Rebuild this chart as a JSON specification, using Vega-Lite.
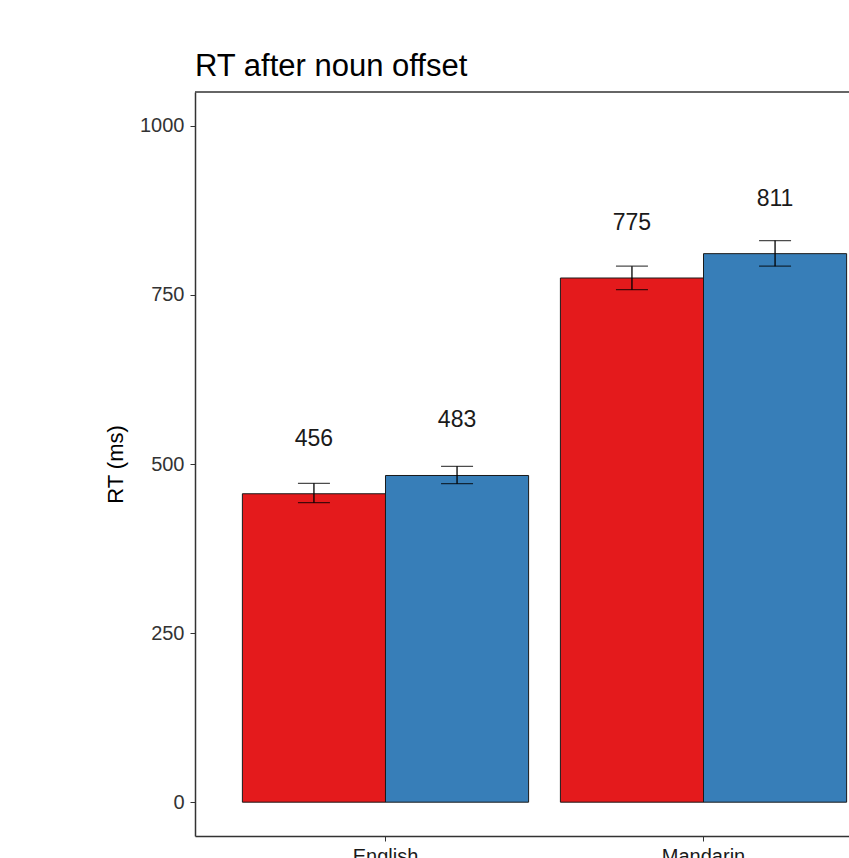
{
  "$schema": "https://vega.github.io/schema/vega-lite/v6.json",
  "width": 654,
  "height": 744,
  "autosize": {"type": "none"},
  "padding": {"left": 195, "top": 92, "right": 0, "bottom": 22},
  "background": "white",
  "config": {
    "font": "Liberation Sans",
    "view": {"stroke": null}
  },
  "title": {
    "text": "RT after noun offset",
    "anchor": "start",
    "frame": "group",
    "fontSize": 31,
    "fontWeight": "normal",
    "color": "#000000",
    "baseline": "bottom",
    "offset": 8,
    "dy": 31
  },
  "data": {
    "values": [
      {"language": "English", "condition": "Condition 1", "mean": 456, "lo": 442.8, "hi": 471.4},
      {"language": "English", "condition": "Condition 2", "mean": 483, "lo": 470.9, "hi": 496.6},
      {"language": "Mandarin", "condition": "Condition 1", "mean": 775, "lo": 757.8, "hi": 792.5},
      {"language": "Mandarin", "condition": "Condition 2", "mean": 811, "lo": 792.5, "hi": 830.3}
    ]
  },
  "layer": [
    {
      "mark": {"type": "bar", "stroke": "#1a1a1a", "strokeWidth": 1, "clip": false},
      "encoding": {
        "x": {
          "field": "language", "type": "nominal", "sort": ["English", "Mandarin"],
          "scale": {"range": [0, 699], "paddingInner": 0.1, "paddingOuter": 0.149},
          "axis": {
            "title": null, "labelAngle": 0, "labelFontSize": 20, "labelColor": "#1a1a1a",
            "domainColor": "#333333", "domainWidth": 1.5, "tickColor": "#333333", "tickSize": 5,
            "labelPadding": 5
          }
        },
        "xOffset": {
          "field": "condition", "type": "nominal", "sort": ["Condition 1", "Condition 2"],
          "scale": {"paddingInner": 0, "paddingOuter": 0}
        },
        "y": {
          "field": "mean", "type": "quantitative",
          "scale": {"domain": [-50, 1050], "nice": false, "zero": false},
          "axis": {
            "title": "RT (ms)", "titleFontSize": 22, "titleFontWeight": "normal", "titleColor": "#000000",
            "titlePadding": 12, "format": "d",
            "values": [0, 250, 500, 750, 1000], "grid": false,
            "labelFontSize": 20, "labelColor": "#333333", "labelPadding": 6,
            "domainColor": "#333333", "domainWidth": 1.5, "tickColor": "#333333", "tickSize": 5
          }
        },
        "fill": {
          "field": "condition", "type": "nominal",
          "scale": {"domain": ["Condition 1", "Condition 2"], "range": ["#E41A1C", "#377EB8"]},
          "legend": null
        }
      }
    },
    {
      "mark": {"type": "rule", "color": "#000000", "strokeWidth": 1.3},
      "encoding": {
        "x": {"field": "language", "type": "nominal", "sort": ["English", "Mandarin"]},
        "xOffset": {"field": "condition", "type": "nominal", "sort": ["Condition 1", "Condition 2"]},
        "y": {"field": "lo", "type": "quantitative"},
        "y2": {"field": "hi"}
      }
    },
    {
      "mark": {"type": "tick", "color": "#000000", "thickness": 1.3, "size": 32},
      "encoding": {
        "x": {"field": "language", "type": "nominal", "sort": ["English", "Mandarin"]},
        "xOffset": {"field": "condition", "type": "nominal", "sort": ["Condition 1", "Condition 2"]},
        "y": {"field": "lo", "type": "quantitative"}
      }
    },
    {
      "mark": {"type": "tick", "color": "#000000", "thickness": 1.3, "size": 32},
      "encoding": {
        "x": {"field": "language", "type": "nominal", "sort": ["English", "Mandarin"]},
        "xOffset": {"field": "condition", "type": "nominal", "sort": ["Condition 1", "Condition 2"]},
        "y": {"field": "hi", "type": "quantitative"}
      }
    },
    {
      "mark": {"type": "text", "fontSize": 23, "color": "#1a1a1a", "baseline": "middle", "dy": -55},
      "encoding": {
        "x": {"field": "language", "type": "nominal", "sort": ["English", "Mandarin"]},
        "xOffset": {"field": "condition", "type": "nominal", "sort": ["Condition 1", "Condition 2"]},
        "y": {"field": "mean", "type": "quantitative"},
        "text": {"field": "mean", "type": "quantitative", "format": "d"}
      }
    },
    {
      "data": {"values": [{}]},
      "mark": {"type": "rule", "color": "#333333", "strokeWidth": 1.5},
      "encoding": {
        "y": {"datum": 1050}
      }
    }
  ]
}
